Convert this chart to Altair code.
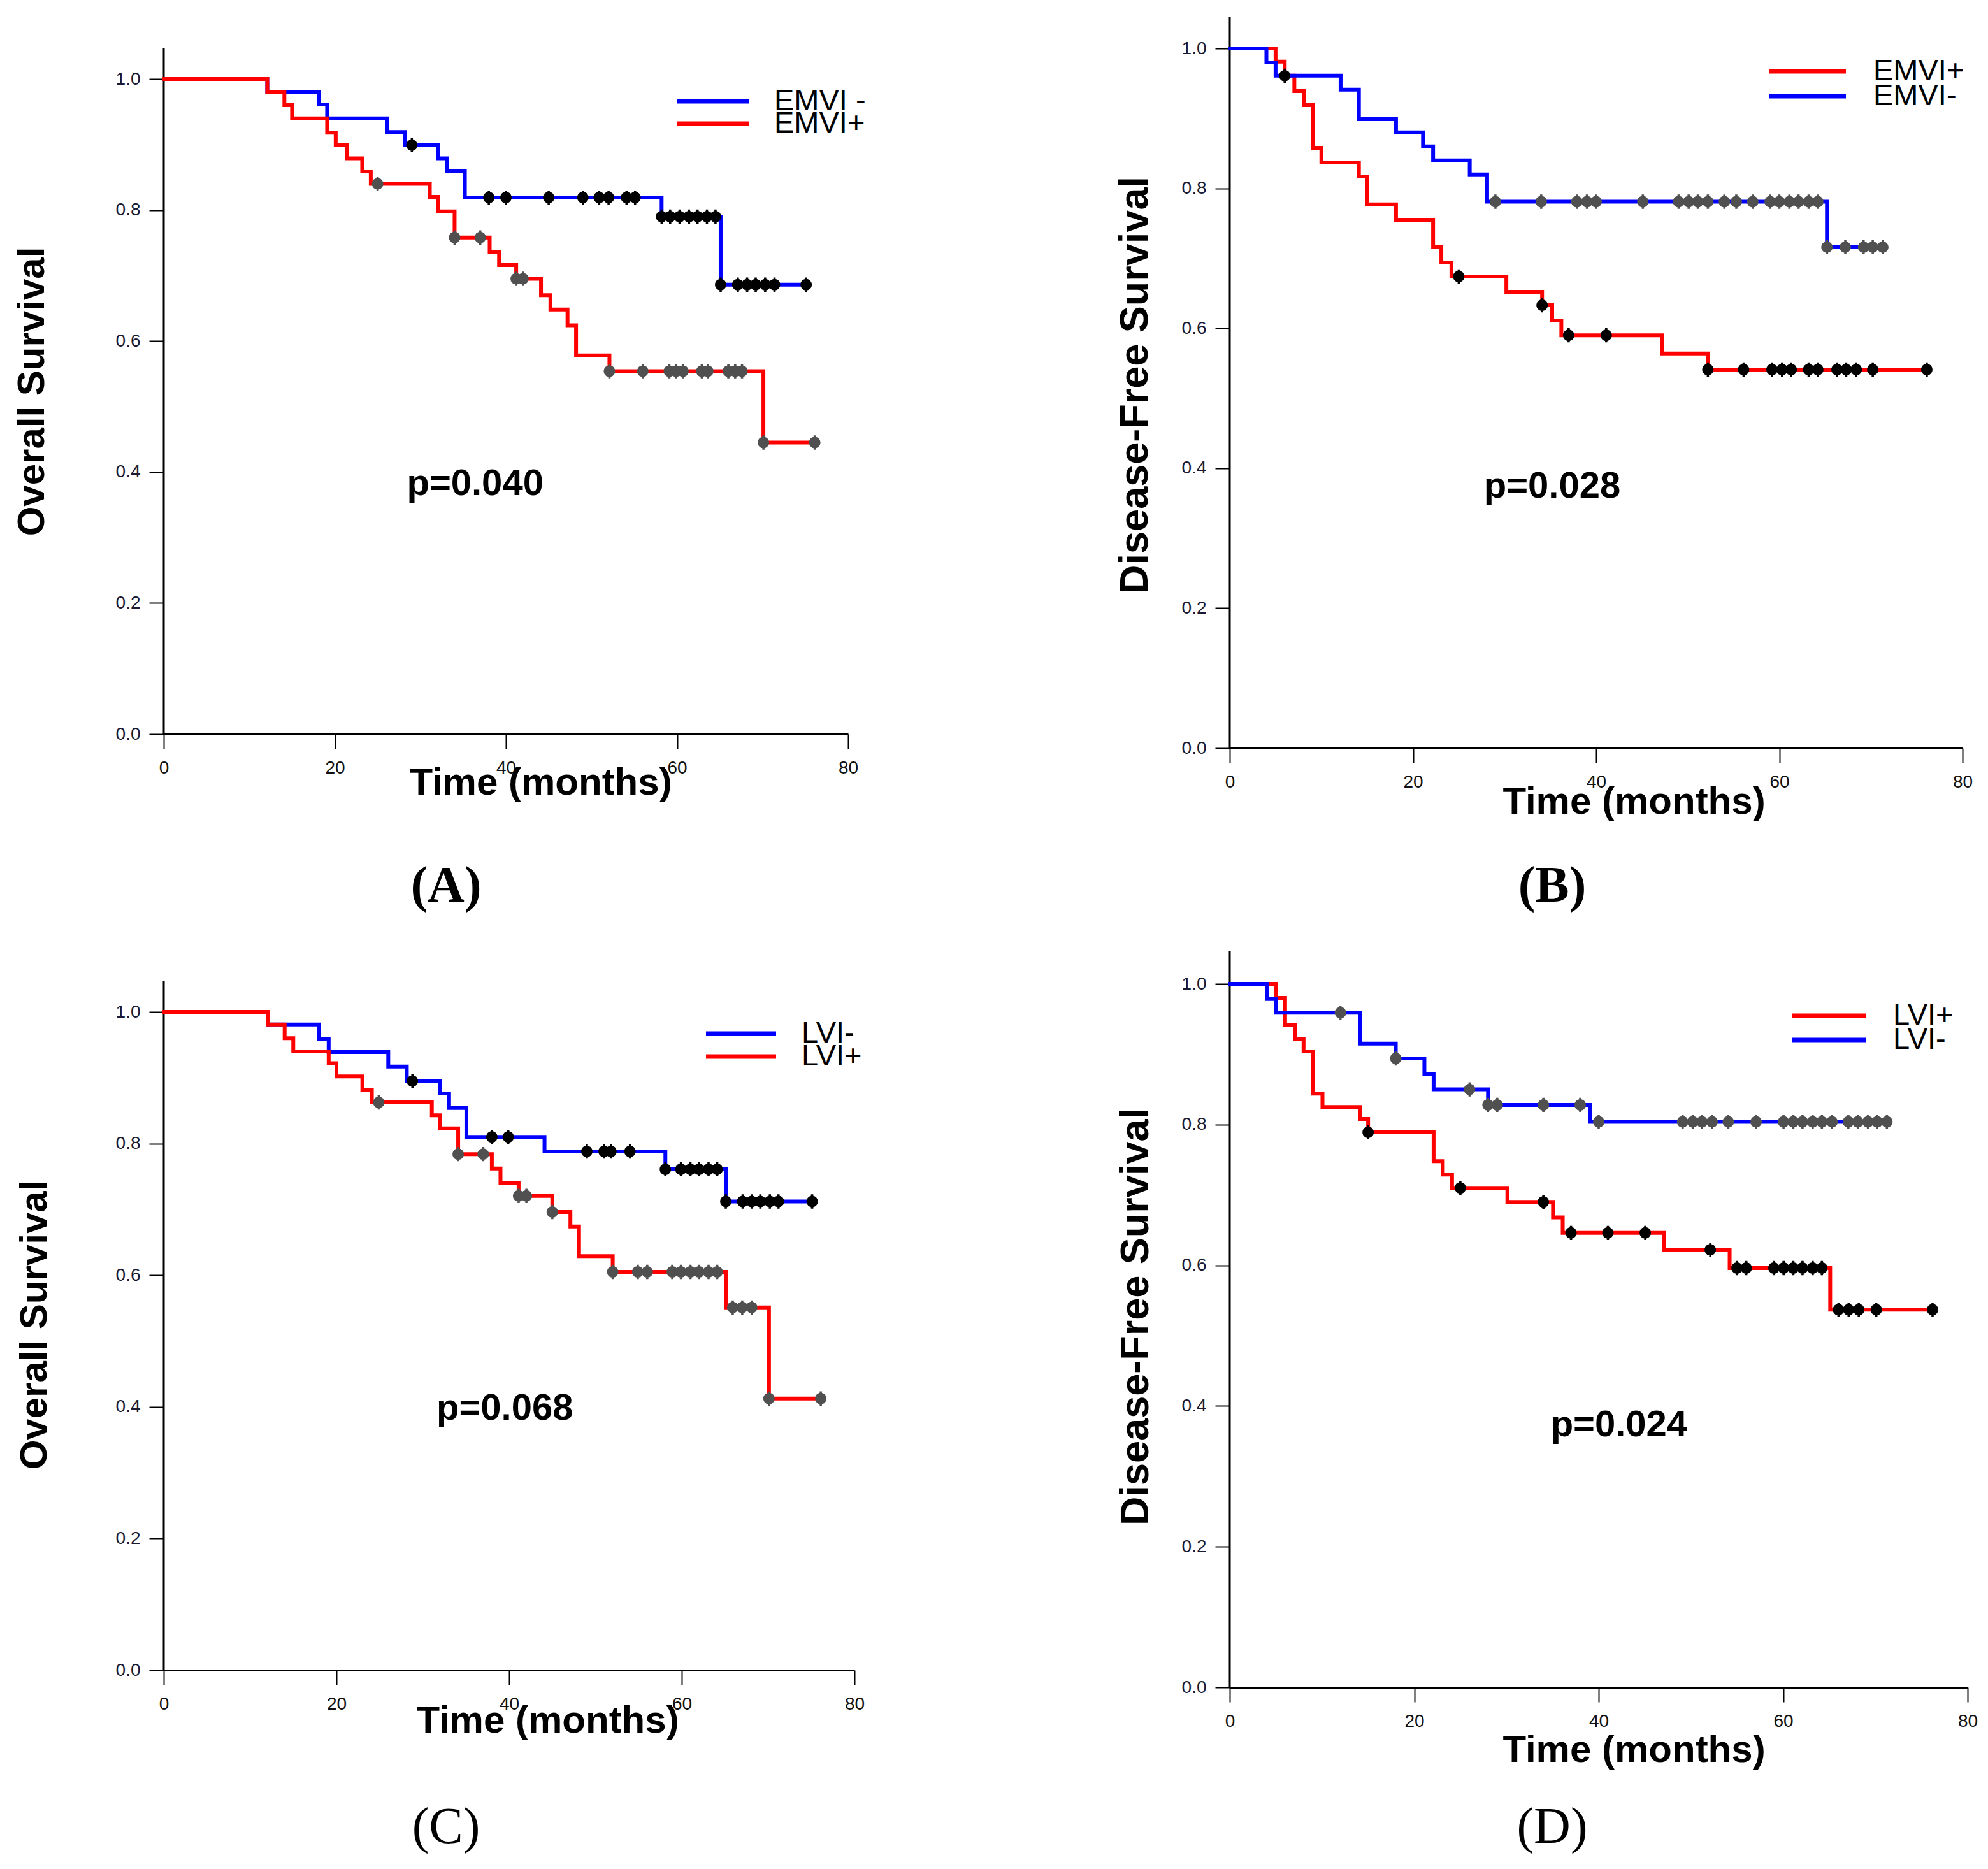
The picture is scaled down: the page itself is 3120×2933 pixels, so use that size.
import altair as alt
import pandas as pd

# ---------------- data ----------------
# Panel A  (Overall survival, EMVI)
A_neg_t = [12.1, 18.1, 19.1, 26.1, 28.2, 32.1, 33.1, 35.2, 58.2, 65.1]
A_neg_s = [0.980, 0.961, 0.940, 0.919, 0.899, 0.879, 0.860, 0.819, 0.790, 0.686]
A_neg_c = [29.0, 38.0, 40.0, 45.0, 49.0, 50.9, 52.0, 54.1, 55.1, 58.2, 59.2, 60.3, 61.4,
           62.4, 63.5, 64.5, 65.1, 67.1, 68.2, 69.2, 70.3, 71.4, 75.1]
A_pos_t = [12.1, 14.1, 15.0, 19.1, 20.1, 21.4, 23.2, 24.2, 31.1, 32.1, 34.0, 38.1, 39.2,
           41.2, 44.1, 45.2, 47.2, 48.2, 52.1, 70.1]
A_pos_s = [0.980, 0.960, 0.940, 0.918, 0.899, 0.879, 0.859, 0.840, 0.820, 0.798, 0.758,
           0.736, 0.716, 0.695, 0.670, 0.648, 0.624, 0.578, 0.554, 0.445]
A_pos_c = [25.0, 34.0, 37.0, 41.2, 42.0, 52.1, 56.0, 59.1, 59.9, 60.7, 62.9, 63.6, 66.0,
           66.8, 67.6, 70.1, 76.1]

# Panel B  (Disease-free survival, EMVI)
B_pos_t = [5.0, 6.0, 7.05, 8.1, 9.1, 10.0, 14.1, 15.0, 18.15, 22.2, 23.1, 24.2, 30.2,
           34.1, 35.2, 36.2, 47.2, 52.2]
B_pos_s = [0.981, 0.961, 0.939, 0.919, 0.858, 0.837, 0.817, 0.777, 0.755, 0.716, 0.694,
           0.674, 0.652, 0.633, 0.611, 0.590, 0.564, 0.541]
B_pos_c = [6.0, 25.0, 34.1, 37.0, 41.1, 52.2, 56.1, 59.2, 60.3, 61.3, 63.2, 64.2, 66.3,
           67.3, 68.4, 70.2, 76.1]
B_neg_t = [4.0, 5.0, 12.1, 14.1, 18.15, 21.1, 22.2, 26.2, 28.1, 65.2]
B_neg_s = [0.980, 0.961, 0.941, 0.899, 0.880, 0.860, 0.840, 0.820, 0.781, 0.716]
B_neg_c = [29.0, 34.0, 37.9, 39.0, 40.0, 45.1, 49.0, 50.1, 51.1, 52.2, 54.0, 55.3, 57.1,
           59.0, 60.0, 61.1, 62.1, 63.2, 64.2, 65.2, 67.2, 69.2, 70.2, 71.3]

# Panel C  (Overall survival, LVI)
C_neg_t = [12.1, 18.0, 19.1, 26.0, 28.15, 32.0, 33.05, 35.05, 44.1, 58.1, 65.1]
C_neg_s = [0.981, 0.959, 0.939, 0.917, 0.895, 0.876, 0.854, 0.810, 0.788, 0.761, 0.712]
C_neg_c = [28.8, 38.0, 39.9, 49.0, 51.0, 51.8, 54.0, 58.1, 59.9, 61.0, 62.0, 63.1, 64.1,
           65.1, 67.05, 68.1, 69.1, 70.2, 71.2, 75.1]
C_pos_t = [12.1, 14.0, 15.0, 19.1, 20.0, 23.0, 24.1, 31.05, 32.0, 34.1, 38.0, 39.0, 41.1,
           45.0, 47.1, 48.1, 52.0, 65.1, 70.1]
C_pos_s = [0.981, 0.960, 0.940, 0.922, 0.902, 0.881, 0.8625, 0.843, 0.823, 0.784, 0.762,
           0.740, 0.7205, 0.696, 0.674, 0.629, 0.605, 0.551, 0.4126]
C_pos_c = [24.9, 34.1, 37.0, 41.1, 42.0, 45.0, 52.0, 54.9, 56.0, 58.9, 59.9, 61.0, 62.0,
           63.1, 64.1, 65.9, 67.0, 68.1, 70.1, 76.1]

# Panel D  (Disease-free survival, LVI)
D_pos_t = [5.0, 6.0, 7.1, 8.0, 9.0, 10.05, 14.1, 15.0, 22.1, 23.1, 24.1, 30.1, 35.05,
           36.1, 47.1, 54.2, 65.1]
D_pos_s = [0.980, 0.942, 0.922, 0.904, 0.844, 0.825, 0.808, 0.789, 0.748, 0.729, 0.710,
           0.690, 0.668, 0.646, 0.622, 0.596, 0.537]
D_pos_c = [15.0, 25.0, 34.0, 37.0, 41.0, 45.05, 52.1, 55.0, 56.0, 59.0, 60.05, 61.1, 62.1,
           63.2, 64.2, 66.0, 67.1, 68.2, 70.1, 76.2]
D_neg_t = [4.06, 5.0, 14.1, 18.0, 21.1, 22.1, 28.0, 39.06]
D_neg_s = [0.9785, 0.959, 0.915, 0.894, 0.872, 0.850, 0.828, 0.804]
D_neg_c = [12.0, 18.0, 26.0, 28.0, 29.0, 34.0, 38.0, 40.0, 49.1, 50.2, 51.2, 52.3, 54.05,
           57.07, 60.04, 61.1, 62.1, 63.2, 64.2, 65.3, 67.07, 68.1, 69.2, 70.2, 71.25]

x_ticks = [0, 20, 40, 60, 80]
y_ticks = [0.0, 0.2, 0.4, 0.6, 0.8, 1.0]

# ---------------- styling ----------------
BLUE = "#0000ff"
RED = "#ff0000"
BLACK = "#000000"
GREY = "#505050"
SANS = "Liberation Sans, Arial, Helvetica, sans-serif"
SERIF = "Liberation Serif, Times New Roman, serif"
CENSOR_SHAPE = ("M-0.8,0 A0.8,0.8 0 1,1 0.8,0 A0.8,0.8 0 1,1 -0.8,0 Z "
                "M-0.16,-1 L0.16,-1 L0.16,1 L-0.16,1 Z")


def step_df(events, surv, cens):
    end = max(cens[-1], events[-1])
    return pd.DataFrame({"t": [0.0] + list(events) + [end],
                         "s": [1.0] + list(surv) + [surv[-1]]})


def censor_df(events, surv, cens):
    vals = []
    for c in cens:
        v = 1.0
        for e, s in zip(events, surv):
            if e <= c + 1e-9:
                v = s
        vals.append(v)
    return pd.DataFrame({"t": list(cens), "s": vals})


panels = [
    dict(key="A", ytitle="Overall Survival", ytsize=60, width=1074, height=1125, ppu=1028,
         ytx=-207, yty=587, xtx=591, xty=76,
         series=[("EMVI -", BLUE, BLACK, A_neg_t, A_neg_s, A_neg_c),
                 ("EMVI+", RED, GREY, A_pos_t, A_pos_s, A_pos_c)],
         p="p=0.040", pt=36.4, ps=0.381,
         leg_x=(806, 918), leg_y=(132, 167), leg_tx=958,
         label="(A)", lab_x=443, lab_y=1364, lab_bold=True),
    dict(key="B", ytitle="Disease-Free Survival", ytsize=63, width=1150, height=1147, ppu=1098,
         ytx=-149, yty=577, xtx=634, xty=84,
         series=[("EMVI+", RED, BLACK, B_pos_t, B_pos_s, B_pos_c),
                 ("EMVI-", BLUE, GREY, B_neg_t, B_neg_s, B_neg_c)],
         p="p=0.028", pt=35.2, ps=0.373,
         leg_x=(847, 967), leg_y=(85, 124), leg_tx=1010,
         label="(B)", lab_x=506, lab_y=1364, lab_bold=True),
    dict(key="C", ytitle="Overall Survival", ytsize=60, width=1084, height=1131, ppu=1033,
         ytx=-203, yty=589, xtx=602, xty=79,
         series=[("LVI-", BLUE, BLACK, C_neg_t, C_neg_s, C_neg_c),
                 ("LVI+", RED, GREY, C_pos_t, C_pos_s, C_pos_c)],
         p="p=0.068", pt=39.5, ps=0.397,
         leg_x=(851, 961), leg_y=(132, 168), leg_tx=1001,
         label="(C)", lab_x=443, lab_y=1378, lab_bold=False),
    dict(key="D", ytitle="Disease-Free Survival", ytsize=63, width=1158, height=1158, ppu=1104,
         ytx=-148, yty=576, xtx=634, xty=98,
         series=[("LVI+", RED, BLACK, D_pos_t, D_pos_s, D_pos_c),
                 ("LVI-", BLUE, GREY, D_neg_t, D_neg_s, D_neg_c)],
         p="p=0.024", pt=42.2, ps=0.372,
         leg_x=(882, 999), leg_y=(104, 142), leg_tx=1041,
         label="(D)", lab_x=506, lab_y=1378, lab_bold=False),
]


def make_panel(cfg):
    ymax = cfg["height"] / cfg["ppu"]
    xs = alt.Scale(domain=[0, 80], nice=False, zero=False)
    ys = alt.Scale(domain=[0, ymax], nice=False, zero=False)
    xaxis = alt.Axis(values=x_ticks, format="d", title="Time (months)",
                     titleX=cfg["xtx"], titleY=cfg["xty"], titleAlign="center",
                     titleBaseline="middle", titleFont=SANS, titleFontSize=60,
                     titleFontWeight="bold", titleColor=BLACK,
                     domain=True, domainColor=BLACK, domainWidth=3,
                     ticks=True, tickSize=23, tickWidth=2, tickColor=BLACK,
                     labelFont=SANS, labelFontSize=28, labelColor="#111111",
                     labelPadding=16, grid=False, labelFlush=False)
    yaxis = alt.Axis(values=y_ticks, format=".1f", title=cfg["ytitle"],
                     titleX=cfg["ytx"], titleY=cfg["yty"], titleAngle=270,
                     titleAlign="center", titleBaseline="middle", titleFont=SANS,
                     titleFontSize=cfg["ytsize"], titleFontWeight="bold",
                     titleColor=BLACK,
                     domain=False, ticks=True, tickSize=23, tickWidth=2,
                     tickColor=BLACK, labelFont=SANS, labelFontSize=28,
                     labelColor="#1a1a33", labelPadding=14, grid=False,
                     labelFlush=False)

    def X(f="t"):
        return alt.X(f + ":Q", scale=xs, axis=xaxis)

    def Y(f="s"):
        return alt.Y(f + ":Q", scale=ys, axis=yaxis)

    layers = []
    # y axis line
    layers.append(
        alt.Chart(pd.DataFrame({"t": [0.0], "s": [0.0], "s2": [min(1.047, ymax)]}))
        .mark_rule(color=BLACK, strokeWidth=3)
        .encode(x=X(), y=Y(), y2="s2:Q")
    )
    # survival curves (second group drawn on top)
    for name, col, ccol, ev, sv, cs in cfg["series"]:
        layers.append(
            alt.Chart(step_df(ev, sv, cs))
            .mark_line(interpolate="step-after", color=col, strokeWidth=6,
                       strokeCap="square")
            .encode(x=X(), y=Y())
        )
    # censor marks
    for name, col, ccol, ev, sv, cs in cfg["series"]:
        layers.append(
            alt.Chart(censor_df(ev, sv, cs))
            .mark_point(shape=CENSOR_SHAPE, filled=True, size=500, color=ccol,
                        opacity=1)
            .encode(x=X(), y=Y())
        )
    # p value
    layers.append(
        alt.Chart(pd.DataFrame({"t": [cfg["pt"]], "s": [cfg["ps"]], "lab": [cfg["p"]]}))
        .mark_text(font=SANS, fontSize=58, fontWeight="bold", color=BLACK,
                   align="center", baseline="middle")
        .encode(x=X(), y=Y(), text="lab:N")
    )
    # legend
    for i, (name, col, ccol, ev, sv, cs) in enumerate(cfg["series"]):
        ly = cfg["leg_y"][i]
        one = pd.DataFrame({"lab": [name]})
        layers.append(
            alt.Chart(one).mark_rule(color=col, strokeWidth=7)
            .encode(x=alt.value(cfg["leg_x"][0]), x2=alt.value(cfg["leg_x"][1]),
                    y=alt.value(ly))
        )
        layers.append(
            alt.Chart(one).mark_text(font=SANS, fontSize=47, color=BLACK,
                                     align="left", baseline="middle")
            .encode(x=alt.value(cfg["leg_tx"]), y=alt.value(ly), text="lab:N")
        )
    # panel label
    layers.append(
        alt.Chart(pd.DataFrame({"lab": [cfg["label"]]}))
        .mark_text(font=SERIF, fontSize=80,
                   fontWeight="bold" if cfg["lab_bold"] else "normal",
                   color=BLACK, align="center", baseline="middle")
        .encode(x=alt.value(cfg["lab_x"]), y=alt.value(cfg["lab_y"]), text="lab:N")
    )
    return alt.layer(*layers).properties(width=cfg["width"], height=cfg["height"])


charts = [make_panel(c) for c in panels]

chart = (
    alt.concat(*charts, columns=2, spacing={"row": 316, "column": 589},
               bounds="flush", align="each")
    .properties(padding={"left": 12, "top": 17, "right": 5, "bottom": 5},
                background="white")
    .configure_view(stroke=None)
)

chart.save("out.html", embed_options={"renderer": "svg", "actions": False})
